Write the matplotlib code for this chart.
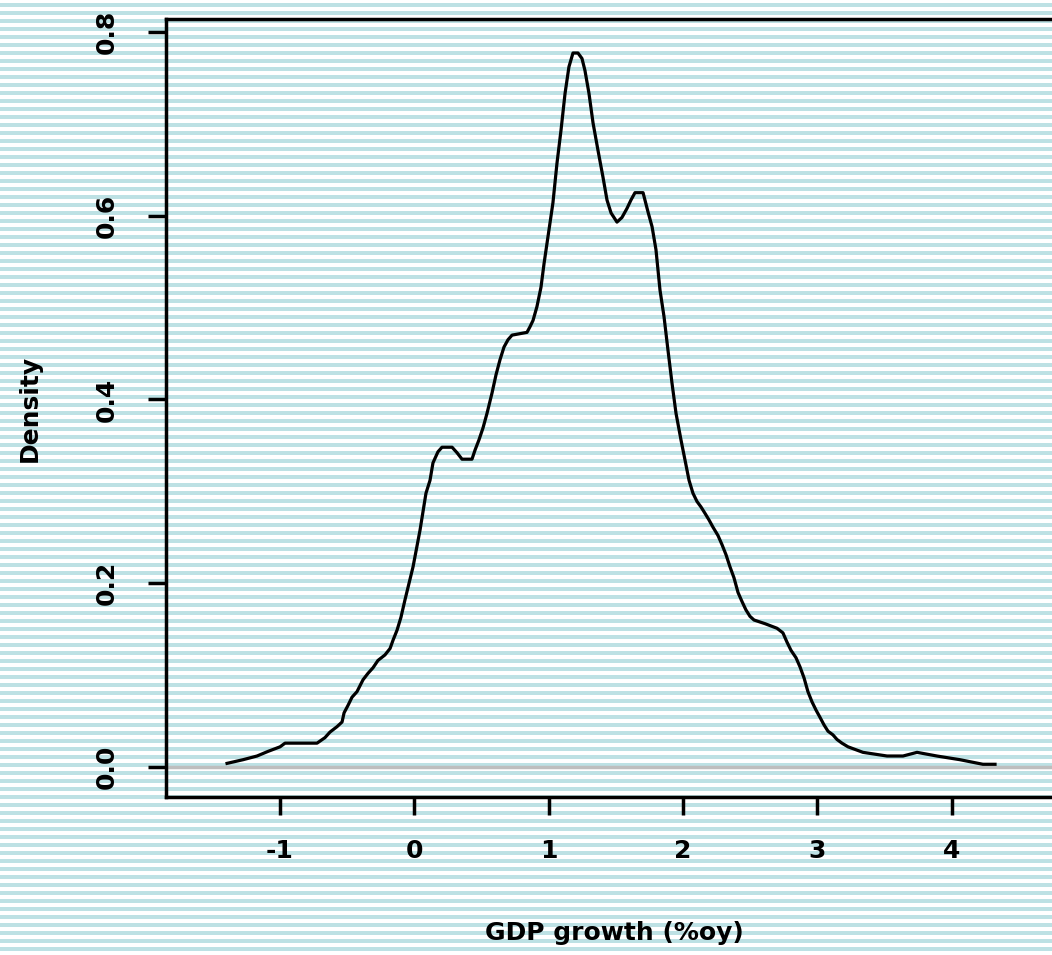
import numpy as np
import matplotlib
matplotlib.use("Agg")
import matplotlib.pyplot as plt

# density curve of GDP growth
growth = [-1.390, -1.271, -1.167, -1.086, -0.996, -0.959, -0.721, -0.662, -0.625, -0.572,
          -0.535, -0.520, -0.491, -0.461, -0.424, -0.379, -0.342, -0.305, -0.268, -0.216,
          -0.178, -0.156, -0.126, -0.097, -0.067, -0.037, -0.007, 0.045, 0.089, 0.119,
          0.141, 0.178, 0.208, 0.283, 0.320, 0.357, 0.431, 0.454, 0.483, 0.513,
          0.543, 0.580, 0.610, 0.639, 0.669, 0.699, 0.729, 0.840, 0.862, 0.885,
          0.914, 0.944, 0.967, 0.996, 1.033, 1.063, 1.093, 1.123, 1.152, 1.182,
          1.219, 1.249, 1.271, 1.301, 1.331, 1.368, 1.405, 1.435, 1.465, 1.509,
          1.546, 1.584, 1.613, 1.643, 1.703, 1.717, 1.740, 1.770, 1.799, 1.829,
          1.859, 1.888, 1.918, 1.948, 1.985, 2.015, 2.045, 2.074, 2.104, 2.134,
          2.164, 2.193, 2.223, 2.260, 2.290, 2.320, 2.349, 2.379, 2.409, 2.439,
          2.468, 2.498, 2.528, 2.610, 2.699, 2.743, 2.773, 2.803, 2.840, 2.870,
          2.900, 2.929, 2.959, 2.989, 3.019, 3.048, 3.078, 3.115, 3.145, 3.182,
          3.227, 3.338, 3.517, 3.636, 3.740, 3.888, 4.059, 4.230, 4.320]
density = [0.004, 0.008, 0.012, 0.017, 0.022, 0.026, 0.026, 0.032, 0.038, 0.044,
           0.049, 0.059, 0.067, 0.076, 0.082, 0.095, 0.102, 0.108, 0.116, 0.122,
           0.129, 0.138, 0.149, 0.163, 0.182, 0.200, 0.218, 0.258, 0.298, 0.312,
           0.331, 0.343, 0.348, 0.348, 0.342, 0.335, 0.335, 0.345, 0.356, 0.369,
           0.385, 0.407, 0.427, 0.443, 0.457, 0.465, 0.470, 0.473, 0.479, 0.486,
           0.501, 0.522, 0.548, 0.577, 0.614, 0.657, 0.693, 0.733, 0.762, 0.777,
           0.777, 0.771, 0.758, 0.733, 0.701, 0.671, 0.642, 0.617, 0.603, 0.593,
           0.598, 0.608, 0.617, 0.625, 0.625, 0.617, 0.604, 0.588, 0.563, 0.519,
           0.490, 0.454, 0.418, 0.385, 0.356, 0.334, 0.312, 0.298, 0.289, 0.283,
           0.276, 0.269, 0.261, 0.252, 0.242, 0.231, 0.218, 0.206, 0.190, 0.180,
           0.171, 0.164, 0.160, 0.156, 0.151, 0.146, 0.136, 0.127, 0.119, 0.109,
           0.097, 0.082, 0.071, 0.062, 0.054, 0.046, 0.039, 0.035, 0.030, 0.026,
           0.022, 0.016, 0.012, 0.012, 0.016, 0.012, 0.008, 0.003, 0.003]

xticks = [-1, 0, 1, 2, 3, 4]
yticks = [0.0, 0.2, 0.4, 0.6, 0.8]
ytick_labels = ["0.0", "0.2", "0.4", "0.6", "0.8"]

W, H = 1052, 955
stripe = "#bde1e4"

fig = plt.figure(figsize=(W / 100, H / 100), dpi=100)
fig.patch.set_facecolor("white")

# striped background over the whole picture
bg = fig.add_axes([0, 0, 1, 1], zorder=0)
bg.set_xlim(0, W)
bg.set_ylim(H, 0)
for y0 in range(3, H, 8):
    bg.axhspan(y0, y0 + 4, color=stripe, lw=0)
bg.axis("off")

# axes box in pixels: left 166, top 19, bottom 797, right past the edge
left, top, bottom, right = 166, 19, 797, 1062
ax = fig.add_axes([left / W, (H - bottom) / H, (right - left) / W, (bottom - top) / H], zorder=1)
ax.set_facecolor("none")

ax.axhline(0, color="#bebebe", lw=2.5, zorder=1)
ax.plot(growth, density, color="black", lw=2.3, zorder=2)

ax.set_xlim(-1.844, 4.818)
ax.set_ylim(-0.0326, 0.814)

for s in ax.spines.values():
    s.set_linewidth(2.5)

font = dict(family="DejaVu Sans", weight="bold", size=18)
ax.set_xticks(xticks)
ax.set_xticklabels([str(v) for v in xticks], **font)
ax.set_yticks(yticks)
ax.set_yticklabels(ytick_labels, rotation=90, va="center", **font)
ax.tick_params(direction="out", length=13, width=2.5, pad=17)
ax.tick_params(axis="y", pad=21)

ax.set_xlabel("GDP growth (%oy)", labelpad=42, **font)
ax.set_ylabel("Density", labelpad=38, **font)

fig.savefig("out.png", dpi=100)
